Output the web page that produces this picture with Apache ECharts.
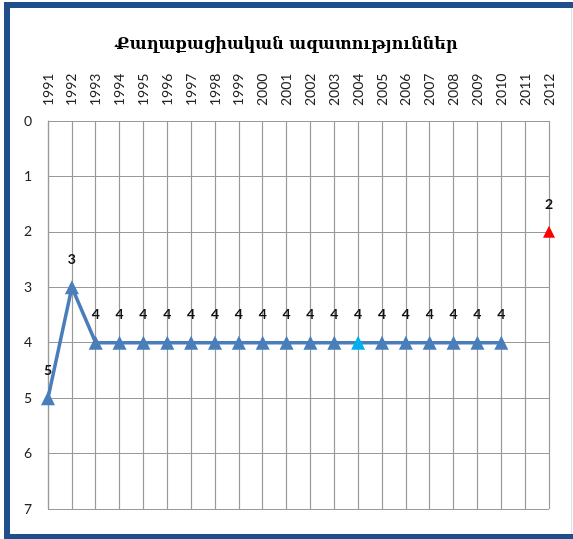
<!DOCTYPE html>
<html>
<head>
<meta charset="utf-8">
<script src="https://cdn.jsdelivr.net/npm/echarts@6/dist/echarts.min.js"></script>
<style>
  html, body { margin: 0; padding: 0; background: #fff; }
  #chart { width: 573px; height: 539px; }
</style>
</head>
<body>
<div id="chart"></div>
<script>
const titleText = 'Քաղաքացիական ազատություններ';
const years = ['1991', '1992', '1993', '1994', '1995', '1996', '1997', '1998', '1999', '2000',
  '2001', '2002', '2003', '2004', '2005', '2006', '2007', '2008', '2009', '2010', '2011', '2012'];
// score per year, null = no value
const scores = [5, 3, 4, 4, 4, 4, 4, 4, 4, 4, 4, 4, 4, 4, 4, 4, 4, 4, 4, 4, null, 2];
const yTicks = [0, 1, 2, 3, 4, 5, 6, 7];

const lineColor = '#4a7ebb';
// special points
const pointColors = { '2004': '#00b0f0', '2012': '#ff0000' };

const chart = echarts.init(document.getElementById('chart'));

const seriesData = scores.map((v, i) => {
  const c = pointColors[years[i]];
  if (!c) return v;
  return {
    value: v,
    symbolSize: years[i] === '2012' ? 12 : 14,
    itemStyle: { color: c },
  };
});

chart.setOption({
  animation: false,
  title: {
    text: titleText,
    left: 'center',
    top: 32,
    textStyle: { fontFamily: 'DejaVu Serif', fontWeight: 'bold', fontSize: 16, color: '#000' },
  },
  grid: { left: 48, right: 24, top: 121, bottom: 30 },
  xAxis: {
    type: 'category',
    data: years,
    position: 'top',
    boundaryGap: false,
    axisLine: { show: false },
    axisTick: { show: false },
    axisLabel: {
      interval: 0, rotate: 90, margin: 15,
      fontFamily: 'Lato', fontSize: 14, color: '#222',
    },
    splitLine: { show: true, lineStyle: { color: '#999', width: 1.2 } },
  },
  yAxis: {
    type: 'value',
    inverse: true,
    min: yTicks[0],
    max: yTicks[yTicks.length - 1],
    interval: 1,
    axisLine: { show: true, lineStyle: { color: '#999', width: 1.2 } },
    axisTick: { show: false },
    axisLabel: { margin: 20, align: 'center', fontFamily: 'Lato', fontSize: 14, color: '#222' },
    splitLine: { show: true, lineStyle: { color: '#999', width: 1.2 } },
  },
  graphic: [
    { type: 'rect', shape: { x: 4, y: 2, width: 569, height: 6 }, style: { fill: '#1f4e8c' } },
    { type: 'rect', shape: { x: 4, y: 2, width: 6, height: 537 }, style: { fill: '#1f4e8c' } },
    { type: 'rect', shape: { x: 4, y: 534, width: 569, height: 5 }, style: { fill: '#1f4e8c' } },
    { type: 'rect', shape: { x: 571, y: 8, width: 1, height: 526 }, style: { fill: '#d6e4f0' } },
  ],
  series: [{
    type: 'line',
    data: seriesData,
    connectNulls: false,
    symbol: 'triangle',
    symbolSize: 14,
    lineStyle: { color: lineColor, width: 3.5 },
    itemStyle: { color: lineColor },
    label: {
      show: true,
      position: 'top',
      distance: 14,
      fontFamily: 'Lato',
      fontWeight: 'bold',
      fontSize: 14,
      color: '#111',
    },
  }],
});
</script>
</body>
</html>
